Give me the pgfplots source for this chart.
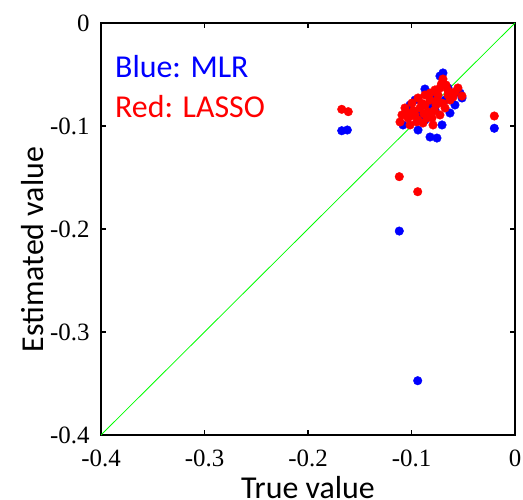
\documentclass[border=0pt]{standalone}
\usepackage{pgfplots}
\pgfplotsset{compat=1.18}
\usepackage{fontspec}
\setmainfont{Liberation Serif}
\newfontfamily\calibri{Carlito}

\begin{document}
\begin{tikzpicture}
\begin{axis}[
    width=414bp, height=412bp, scale only axis,
    xmin=-0.4, xmax=0, ymin=-0.4, ymax=0,
    xtick={-0.4,-0.3,-0.2,-0.1,0},
    ytick={-0.4,-0.3,-0.2,-0.1,0},
    tick align=inside,
    major tick length=5bp,
    axis line style={line width=2bp},
    tick style={line width=1.5bp, black},
    /pgf/number format/assume math mode=true,
    tick label style={font=\fontsize{25}{25}\selectfont},
    xticklabel style={yshift=-11bp},
    yticklabel style={xshift=-8bp},
    clip=true,
]
% MLR (blue)
\addplot[only marks, mark=*, mark size=4.3bp, color=blue, mark options={draw=blue, fill=blue}] coordinates {
(-0.1674,-0.1046) (-0.1620,-0.1039) (-0.0200,-0.1022) (-0.1118,-0.2020) (-0.0940,-0.3473)
(-0.0696,-0.0485) (-0.0725,-0.0515) (-0.0870,-0.0641) (-0.0531,-0.0680) (-0.0512,-0.0728)
(-0.0628,-0.0874) (-0.0705,-0.0990) (-0.1034,-0.0874) (-0.1082,-0.0990) (-0.0937,-0.1039)
(-0.0821,-0.1107) (-0.0754,-0.1117) (-0.0966,-0.0748) (-0.0821,-0.0796) (-0.0676,-0.0748)
(-0.0918,-0.0893) (-0.0773,-0.0845) (-0.0580,-0.0796) (-0.1014,-0.0796) (-0.0647,-0.0631)
(-0.0802,-0.0699) (-0.0870,-0.0942)
};
% LASSO (red)
\addplot[only marks, mark=*, mark size=4.3bp, color=red, mark options={draw=red, fill=red}] coordinates {
(-0.1674,-0.0838) (-0.1611,-0.0861) (-0.0200,-0.0903) (-0.1118,-0.1492) (-0.0940,-0.1638)
(-0.0696,-0.0544) (-0.0667,-0.0602) (-0.0725,-0.0631) (-0.0580,-0.0670) (-0.0512,-0.0709)
(-0.0551,-0.0631) (-0.1092,-0.0893) (-0.1111,-0.0961) (-0.1014,-0.0990) (-0.0889,-0.0971)
(-0.0792,-0.0990) (-0.1063,-0.0825) (-0.0995,-0.0777) (-0.0937,-0.0728) (-0.0870,-0.0699)
(-0.0821,-0.0748) (-0.0918,-0.0825) (-0.0841,-0.0864) (-0.0763,-0.0796) (-0.0725,-0.0893)
(-0.0676,-0.0825) (-0.0628,-0.0748) (-0.0966,-0.0893) (-0.0802,-0.0922) (-0.0744,-0.0699)
(-0.0647,-0.0699) (-0.0870,-0.0796) (-0.1034,-0.0922) (-0.0937,-0.0942) (-0.0773,-0.0650)
(-0.1050,-0.0870) (-0.0980,-0.0850) (-0.0900,-0.0780) (-0.0850,-0.0920) (-0.0780,-0.0850)
(-0.0700,-0.0780) (-0.0650,-0.0650) (-0.0600,-0.0720) (-0.0750,-0.0750) (-0.0950,-0.0960)
(-0.0820,-0.0680) (-0.1000,-0.0900) (-0.0880,-0.0880) (-0.0710,-0.0590)
};
% y = x reference line
\addplot[no marks, color=green, line width=0.8bp] coordinates {(-0.4,-0.4) (0,0)};
\coordinate (bl) at (rel axis cs:0,0);
\coordinate (tr) at (rel axis cs:1,1);
\coordinate (tl) at (rel axis cs:0,1);
\coordinate (xl) at (rel axis cs:0.5,0);
\coordinate (yl) at (rel axis cs:0,0.45);
\end{axis}
% axis labels
\node[anchor=base, inner sep=0pt, font=\calibri\fontsize{32}{32}\selectfont]
    at ([yshift=-63bp]xl) {True value};
\node[anchor=base, rotate=90, inner sep=0pt, font=\calibri\fontsize{32}{32}\selectfont]
    at ([xshift=-58bp]yl) {Estimated value};
% text legend
\node[anchor=base west, inner sep=0pt, text=blue, font=\calibri\fontsize{32}{32}\selectfont]
    at ([xshift=14bp,yshift=-55bp]tl) {Blue: MLR};
\node[anchor=base west, inner sep=0pt, text=red, font=\calibri\fontsize{32}{32}\selectfont]
    at ([xshift=14bp,yshift=-95bp]tl) {Red: LASSO};
\path (bl) ++(-101bp,-65bp) coordinate (pa);
\path (tr) ++(8bp,23bp) coordinate (pb);
\pgfresetboundingbox
\path (pa) rectangle (pb);
\end{tikzpicture}
\end{document}
